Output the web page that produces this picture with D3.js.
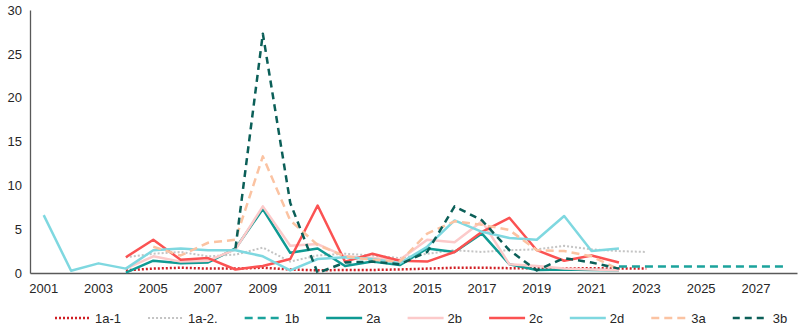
<!DOCTYPE html>
<html>
<head>
<meta charset="utf-8">
<script src="https://cdn.jsdelivr.net/npm/d3@7"></script>
<style>
  html, body { margin: 0; padding: 0; background: #fff; }
  svg { display: block; font-family: "Liberation Sans", Arial, sans-serif; }
</style>
</head>
<body>
<svg id="chart" width="800" height="329"></svg>
<script>
// ---- data ----
const years = d3.range(2001, 2029).map(String);
const xTickLabels = ["2001","2003","2005","2007","2009","2011","2013","2015","2017","2019","2021","2023","2025","2027"];
const yTicks = [0, 5, 10, 15, 20, 25, 30];

// values aligned with years 2001..2028 (null = no value)
const s1a1 = [null,null,null,0.3,0.5,0.6,0.5,0.5,0.6,0.4,0.3,0.35,0.35,0.4,0.5,0.6,0.6,0.55,0.55,0.55,0.55,0.5,0.5,null,null,null,null,null];
const s1a2 = [null,null,null,1.8,2.2,2.4,1.9,2.1,2.9,1.3,2.0,2.2,2.0,1.7,2.2,2.6,2.4,2.6,2.7,3.1,2.7,2.5,2.4,null,null,null,null,null];
const s1b  = [null,null,null,null,null,null,null,null,null,null,null,null,null,null,null,null,null,null,null,null,null,0.75,0.75,0.75,0.75,0.75,0.75,0.75];
const s2a  = [null,null,null,0.05,1.4,1.1,1.2,2.8,7.3,2.3,2.8,0.8,1.3,0.9,2.8,2.4,4.5,1.0,0.35,0.4,0.35,0.3,null,null,null,null,null,null];
const s2b  = [null,null,null,0.5,1.9,1.3,1.4,2.7,7.6,3.1,3.3,1.9,1.7,1.5,3.8,3.5,5.9,1.0,0.8,0.5,0.4,0.3,null,null,null,null,null,null];
const s2c  = [null,null,null,1.8,3.8,1.5,1.7,0.4,0.8,1.6,7.7,1.3,2.2,1.4,1.3,2.4,4.7,6.3,2.6,1.4,2.0,1.2,null,null,null,null,null,null];
const s2d  = [6.6,0.25,1.1,0.5,2.6,2.8,2.6,2.6,1.9,0.3,1.6,1.8,1.6,1.1,3.0,6.0,4.7,4.0,3.8,6.5,2.5,2.8,null,null,null,null,null,null];
const s3a  = [null,null,null,null,3.0,2.0,3.45,3.8,13.3,6.0,3.2,1.9,1.5,1.3,4.5,5.9,5.5,4.9,2.6,2.5,1.9,0.4,null,null,null,null,null,null];
const s3b  = [null,null,null,null,null,null,null,2.8,27.3,8.0,0.0,1.2,1.3,1.0,2.4,7.6,6.0,2.6,0.3,1.7,1.2,0.5,null,null,null,null,null,null];

const seriesNames = ["1a-1","1a-2.","1b","2a","2b","2c","2d","3a","3b"];
const seriesValues = [s1a1, s1a2, s1b, s2a, s2b, s2c, s2d, s3a, s3b];
const seriesColors = ["#d01f24","#c4c4c4","#1ba39c","#0f9a93","#fccaca","#fb5252","#7fd8e0","#fbc3a2","#0b5f58"];
const seriesDash = ["2,2","2,2","8,5",null,null,null,null,"8,5","7,5"];
const seriesWidth = [2.5,2,2.5,2.5,2.5,2.5,2.5,2.5,2.5];

// ---- layout ----
const svg = d3.select("#chart");
const plotLeft = 30, plotRight = 797, plotTop = 10, plotBottom = 273;

const x = d3.scaleBand().domain(years).range([plotLeft, plotRight]).padding(0);
const y = d3.scaleLinear().domain([0, 30]).range([plotBottom, plotTop]);
const cx = yr => x(yr) + x.bandwidth() / 2;

// axes
const yAxis = d3.axisLeft(y).tickValues(yTicks).tickSize(0).tickPadding(8);
const gy = svg.append("g").attr("transform", `translate(${plotLeft},0)`).call(yAxis);
gy.select(".domain").attr("stroke", "#595959").attr("stroke-width", 1.3);
gy.selectAll("text").attr("font-size", 13).attr("fill", "#262626");

const xAxis = d3.axisBottom(x).tickValues(xTickLabels).tickSize(0).tickPadding(11);
const gx = svg.append("g").attr("transform", `translate(0,${plotBottom})`).call(xAxis);
gx.select(".domain").attr("stroke", "#595959").attr("stroke-width", 1.3);
gx.selectAll("text").attr("font-size", 13).attr("fill", "#262626");

// lines
const line = d3.line()
  .defined(d => d.v !== null)
  .x(d => cx(d.year))
  .y(d => y(d.v));

seriesValues.forEach((vals, i) => {
  const pts = years.map((yr, j) => ({ year: yr, v: vals[j] }));
  svg.append("path")
    .datum(pts)
    .attr("fill", "none")
    .attr("stroke", seriesColors[i])
    .attr("stroke-width", seriesWidth[i])
    .attr("stroke-dasharray", seriesDash[i])
    .attr("stroke-linejoin", "round")
    .attr("d", line);
});

// legend
const legend = svg.append("g").attr("transform", "translate(55,318)");
let lx = 0;
seriesNames.forEach((name, i) => {
  const g = legend.append("g").attr("transform", `translate(${lx},0)`);
  g.append("line")
    .attr("x1", 0).attr("x2", 36).attr("y1", 0).attr("y2", 0)
    .attr("stroke", seriesColors[i])
    .attr("stroke-width", seriesWidth[i])
    .attr("stroke-dasharray", seriesDash[i]);
  const t = g.append("text")
    .attr("x", 40).attr("y", 0).attr("dy", "0.35em")
    .attr("font-size", 13).attr("fill", "#262626")
    .text(name);
  const w = t.node().getComputedTextLength();
  lx += 40 + w + 27;
});
</script>
</body>
</html>
